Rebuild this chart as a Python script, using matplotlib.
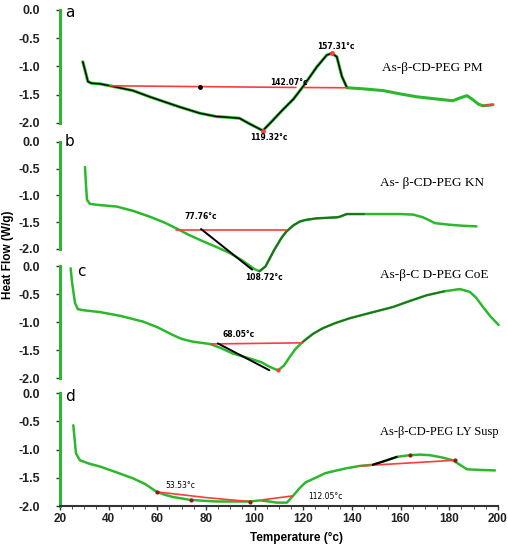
import numpy as np
import matplotlib
matplotlib.use('Agg')
from matplotlib import pyplot as plt

# --- data (temperature in C, heat flow in W/g) ---
t_a = [29.4, 30.5, 31.5, 33, 36.4, 40.5, 50, 56.9, 63, 69.2, 77.4, 84.3, 88, 93.8, 98, 103.4,
       107, 111.6, 116, 119.9, 123, 125.6, 129.7, 131.7, 133.8, 135.9, 138, 145, 152.8, 160,
       166.7, 175, 181.5, 184.5, 187.3, 189.7, 192, 193.9, 196, 198]
hf_a = [-0.92, -1.10, -1.27, -1.30, -1.31, -1.345, -1.43, -1.54, -1.63, -1.72, -1.83, -1.89, -1.90,
        -1.92, -2.02, -2.14, -1.98, -1.77, -1.58, -1.36, -1.17, -1.01, -0.80, -0.77, -0.83, -1.18,
        -1.38, -1.40, -1.43, -1.49, -1.54, -1.58, -1.61, -1.56, -1.52, -1.59, -1.67, -1.70, -1.69, -1.68]
base_a_t = [40.5, 117, 120.5, 138]
base_a_hf = [-1.345, -1.375, -1.376, -1.38]

t_b = [30.3, 30.7, 31.1, 32.3, 36, 43.4, 50, 57, 63, 67.9, 73, 78.8, 84, 89.9, 95, 100, 102,
       104.5, 108.1, 111, 113, 116, 118.6, 121, 125.5, 130, 134, 135, 137.9, 145, 152.8, 160,
       165.2, 169.2, 172, 174.1, 180.3, 186, 191.2]
hf_b = [-0.47, -0.8, -1.08, -1.16, -1.18, -1.21, -1.29, -1.40, -1.51, -1.62, -1.74, -1.86, -1.96,
        -2.08, -2.22, -2.38, -2.42, -2.33, -2.02, -1.80, -1.68, -1.56, -1.49, -1.46, -1.43, -1.42,
        -1.41, -1.40, -1.35, -1.35, -1.35, -1.35, -1.36, -1.41, -1.47, -1.52, -1.55, -1.57, -1.58]
base_b_t = [67.9, 113]
base_b_hf = [-1.64, -1.64]
tan_b_t = [78, 99]
tan_b_hf = [-1.63, -2.39]

t_c = [24.4, 25, 26.2, 27.4, 30, 36.4, 45, 54.1, 60, 66.4, 70, 74.7, 81.6, 86, 91, 98.1, 103,
       106.3, 109.6, 112, 114.5, 117, 119.9, 124, 128, 133, 139.2, 148, 156.9, 164, 170.8, 178,
       184.4, 188.5, 191, 193.9, 197, 200.3]
hf_c = [-0.04, -0.3, -0.66, -0.77, -0.79, -0.82, -0.89, -0.99, -1.09, -1.23, -1.30, -1.35, -1.39,
        -1.46, -1.56, -1.65, -1.72, -1.80, -1.86, -1.78, -1.62, -1.47, -1.35, -1.21, -1.11, -1.02,
        -0.93, -0.83, -0.73, -0.62, -0.52, -0.45, -0.41, -0.46, -0.56, -0.73, -0.90, -1.05]
base_c_t = [82.2, 119.8]
base_c_hf = [-1.39, -1.37]
tan_c_t = [84.9, 106.1]
tan_c_hf = [-1.38, -1.86]

t_d = [25.5, 26, 26.6, 28.2, 32, 36.4, 43, 50, 55, 59.8, 63, 66.4, 73.4, 80, 84.5, 92, 98, 102.2,
       106, 109.2, 113.3, 115.8, 118.6, 121, 125.6, 129, 133.8, 138, 143.3, 148.6, 153, 158.5,
       163.8, 168, 172, 177, 181.5, 184.4, 187.3, 192, 198.8]
hf_d = [-0.57, -0.8, -1.07, -1.19, -1.25, -1.30, -1.40, -1.51, -1.61, -1.75, -1.80, -1.84, -1.89,
        -1.91, -1.92, -1.92, -1.92, -1.90, -1.92, -1.94, -1.94, -1.82, -1.68, -1.58, -1.49, -1.42,
        -1.37, -1.33, -1.29, -1.27, -1.21, -1.13, -1.10, -1.09, -1.10, -1.14, -1.19, -1.27, -1.35,
        -1.36, -1.37]
base_d1_t = [59.8, 70, 80, 90, 98]
base_d1_hf = [-1.75, -1.80, -1.85, -1.89, -1.92]
base_d2_t = [103.4, 115.8]
base_d2_hf = [-1.89, -1.82]
base_d3_t = [143.3, 182.3]
base_d3_hf = [-1.29, -1.19]

GREEN = '#2cb82c'
RED = '#ff3b3b'

fig = plt.figure(figsize=(5.08, 5.48), dpi=100)
boxes = [[0.118, 0.776, 0.862, 0.206],
         [0.118, 0.546, 0.862, 0.195],
         [0.118, 0.310, 0.862, 0.2044],
         [0.118, 0.0766, 0.862, 0.2062]]
axes = [fig.add_axes(b) for b in boxes]

for i, ax in enumerate(axes):
    ax.set_xlim(20, 200)
    ax.set_ylim(-2.0, 0.0)
    for s in ['top', 'right', 'bottom']:
        ax.spines[s].set_visible(False)
    ax.spines['left'].set_color(GREEN)
    ax.spines['left'].set_linewidth(2.2)
    ax.set_yticks([0.0, -0.5, -1.0, -1.5, -2.0])
    ax.set_yticklabels(['0.0', '-0.5', '-1.0', '-1.5', '-2.0'])
    ax.tick_params(axis='y', direction='out', length=3, width=1, color='#333333', pad=11,
                   labelsize=9)
    for lab in ax.get_yticklabels():
        lab.set_fontweight('bold')
        lab.set_family('Liberation Sans')
        lab.set_color('#222222')
    if i < 3:
        ax.set_xticks([])
    ax.patch.set_alpha(0)

axd = axes[3]
axd.spines['bottom'].set_visible(True)
axd.spines['bottom'].set_color('#333333')
axd.spines['bottom'].set_linewidth(1.5)
axd.set_xticks(np.arange(20, 201, 20))
axd.set_xticks(np.arange(20, 201, 5), minor=True)
axd.tick_params(axis='x', direction='out', length=3, width=1, color='#333333', labelsize=8.5, pad=2)
axd.tick_params(axis='x', which='minor', length=2, color='#333333')
for lab in axd.get_xticklabels():
    lab.set_fontweight('bold')
    lab.set_family('Liberation Sans')
    lab.set_color('#222222')

kw = dict(clip_on=False, solid_capstyle='round')
fs = 5.5

# a
ax = axes[0]
ax.plot(t_a, hf_a, color=GREEN, lw=2.2, **kw)
ax.plot(t_a[:27], hf_a[:27], color='black', lw=1.0, **kw)
ax.plot(base_a_t[:2], base_a_hf[:2], color=RED, lw=1.2, **kw)
ax.plot(base_a_t[2:], base_a_hf[2:], color=RED, lw=1.2, **kw)
ax.plot(t_a[-3:], hf_a[-3:], color=RED, lw=1.4, **kw)
ax.plot([77.4], [-1.36], 'o', color='black', ms=2.5, **kw)
ax.plot([103.4, 131.7], [-2.14, -0.77], 'o', color=RED, ms=2.5, **kw)
ax.text(125.6, -0.65, '157.31°c', fontsize=fs, fontweight='bold', va='center')
ax.text(106.3, -1.29, '142.07°c', fontsize=fs, fontweight='bold', va='center')
ax.text(98.1, -2.27, '119.32°c', fontsize=fs, fontweight='bold', va='center')
ax.text(152.3, -1.03, 'As-β-CD-PEG PM', fontsize=9.5, family='Liberation Serif', va='center')
ax.text(22, -0.05, 'a', fontsize=11, va='center')

# b
ax = axes[1]
ax.plot(t_b, hf_b, color=GREEN, lw=1.8, **kw)
ax.plot(t_b[16:30], hf_b[16:30], color='#1f6f1f', lw=1.4, **kw)
ax.plot(base_b_t, base_b_hf, color=RED, lw=1.2, **kw)
ax.plot(tan_b_t, tan_b_hf, color='black', lw=1.4, **kw)
ax.text(71.4, -1.40, '77.76°c', fontsize=fs, fontweight='bold', va='center')
ax.text(96, -2.54, '108.72°c', fontsize=fs, fontweight='bold', va='center')
ax.text(151.5, -0.77, 'As- β-CD-PEG KN', fontsize=9.5, family='Liberation Serif', va='center')
ax.text(22, 0.0, 'b', fontsize=11, va='center')

# c
ax = axes[2]
ax.plot(t_c, hf_c, color=GREEN, lw=1.8, **kw)
ax.plot(t_c[22:32], hf_c[22:32], color='#1f6f1f', lw=1.2, **kw)
ax.plot(base_c_t, base_c_hf, color=RED, lw=1.2, **kw)
ax.plot(tan_c_t, tan_c_hf, color='black', lw=1.4, **kw)
ax.plot([109.6], [-1.86], 'o', color=RED, ms=2, **kw)
ax.text(87, -1.23, '68.05°c', fontsize=fs, fontweight='bold', va='center')
ax.text(151.5, -0.16, 'As-β-C D-PEG CoE', fontsize=9.5, family='Liberation Serif', va='center')
ax.text(27, -0.09, 'c', fontsize=11, va='center')

# d
ax = axes[3]
ax.plot(t_d, hf_d, color=GREEN, lw=1.8, **kw)
ax.plot(base_d1_t, base_d1_hf, color=RED, lw=1.2, **kw)
ax.plot(base_d2_t, base_d2_hf, color=RED, lw=1.2, **kw)
ax.plot(base_d3_t, base_d3_hf, color=RED, lw=1.2, **kw)
ax.plot(t_d[29:32], hf_d[29:32], color='black', lw=1.5, **kw)
ax.plot([59.8, 74, 98, 163.8, 182.3], [-1.75, -1.89, -1.92, -1.10, -1.19], 'o',
        color='#8b1a1a', ms=2, **kw)
ax.text(63.2, -1.63, '53.53°c', fontsize=fs, va='center')
ax.text(121.9, -1.84, '112.05°c', fontsize=fs, va='center')
ax.text(151.5, -0.69, 'As-β-CD-PEG LY Susp', fontsize=9, family='Liberation Serif', va='center')
ax.text(22, -0.07, 'd', fontsize=11, va='center')

fig.text(8 / 508, 1 - 255 / 548, 'Heat Flow (W/g)', rotation=90, fontsize=8.5,
         fontweight='bold', family='Liberation Sans', ha='center', va='center')
fig.text(297 / 508, 1 - 538 / 548, 'Temperature (°c)', fontsize=8.5,
         fontweight='bold', family='Liberation Sans', ha='center', va='center')

fig.savefig('out.png', dpi=100)
